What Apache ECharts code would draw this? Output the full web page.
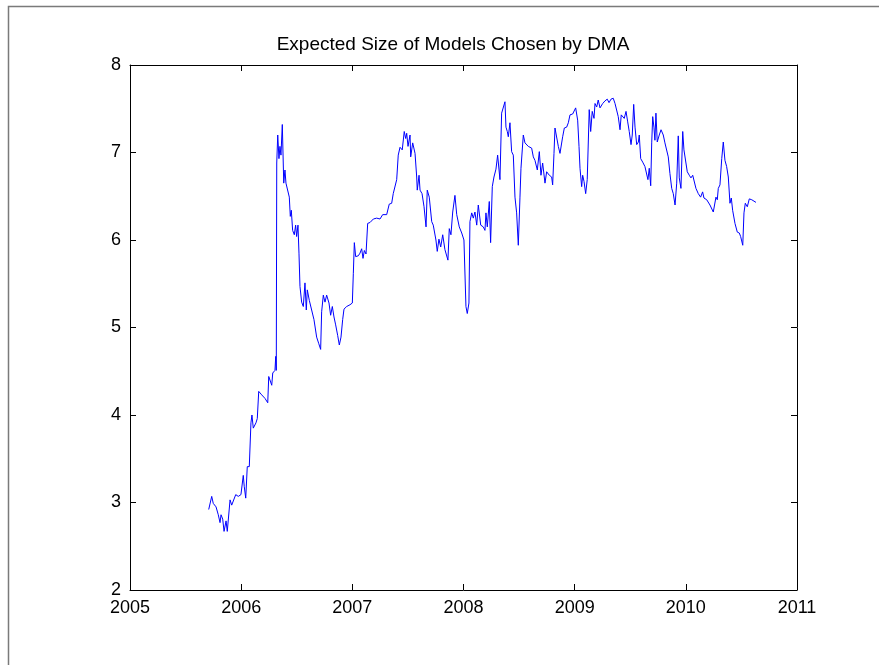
<!DOCTYPE html>
<html>
<head>
    <meta charset="utf-8">
    <title>Expected Size of Models Chosen by DMA</title>
    <script src="https://cdn.jsdelivr.net/npm/echarts@6/dist/echarts.min.js"></script>
    <style>
        html, body { margin: 0; padding: 0; background: #fff; }
    </style>
</head>
<body>
    <div id="main" style="width: 879px;height:665px;"></div>
    <script type="text/javascript">
        // decimal years
        var dates = [
            2005.708, 2005.720, 2005.735, 2005.749, 2005.774, 2005.794, 2005.810, 2005.819, 2005.834, 2005.846,
            2005.864, 2005.875, 2005.891, 2005.900, 2005.915, 2005.929, 2005.951, 2005.974, 2005.998, 2006.019,
            2006.028, 2006.041, 2006.055, 2006.073, 2006.088, 2006.097, 2006.109, 2006.133, 2006.145, 2006.158,
            2006.185, 2006.214, 2006.239, 2006.248, 2006.275, 2006.284, 2006.304, 2006.311, 2006.316, 2006.320,
            2006.329, 2006.340, 2006.349, 2006.358, 2006.370, 2006.383, 2006.394, 2006.403, 2006.415, 2006.433,
            2006.442, 2006.451, 2006.463, 2006.478, 2006.490, 2006.499, 2006.511, 2006.520, 2006.529, 2006.544,
            2006.559, 2006.574, 2006.586, 2006.595, 2006.613, 2006.634, 2006.655, 2006.679, 2006.697, 2006.715,
            2006.724, 2006.739, 2006.754, 2006.769, 2006.790, 2006.805, 2006.820, 2006.835, 2006.850, 2006.868,
            2006.883, 2006.898, 2006.913, 2006.925, 2006.949, 2006.979, 2007.000, 2007.009, 2007.018, 2007.030,
            2007.054, 2007.069, 2007.084, 2007.096, 2007.108, 2007.123, 2007.138, 2007.159, 2007.189, 2007.219,
            2007.249, 2007.273, 2007.309, 2007.332, 2007.354, 2007.368, 2007.384, 2007.399, 2007.413, 2007.429,
            2007.449, 2007.467, 2007.480, 2007.489, 2007.501, 2007.519, 2007.525, 2007.543, 2007.564, 2007.579,
            2007.584, 2007.600, 2007.609, 2007.627, 2007.645, 2007.663, 2007.674, 2007.692, 2007.714, 2007.728,
            2007.752, 2007.764, 2007.779, 2007.795, 2007.813, 2007.833, 2007.849, 2007.860, 2007.872, 2007.887,
            2007.903, 2007.923, 2007.939, 2007.962, 2007.984, 2008.004, 2008.022, 2008.034, 2008.049, 2008.058,
            2008.074, 2008.088, 2008.103, 2008.119, 2008.133, 2008.155, 2008.178, 2008.193, 2008.202, 2008.214,
            2008.232, 2008.244, 2008.259, 2008.274, 2008.292, 2008.307, 2008.328, 2008.343, 2008.358, 2008.373,
            2008.382, 2008.394, 2008.403, 2008.418, 2008.433, 2008.448, 2008.463, 2008.478, 2008.493, 2008.508,
            2008.517, 2008.538, 2008.553, 2008.583, 2008.613, 2008.628, 2008.643, 2008.664, 2008.682, 2008.697,
            2008.712, 2008.733, 2008.748, 2008.772, 2008.793, 2008.802, 2008.814, 2008.823, 2008.838, 2008.853,
            2008.868, 2008.883, 2008.892, 2008.907, 2008.928, 2008.943, 2008.958, 2008.982, 2008.997, 2009.009,
            2009.027, 2009.039, 2009.048, 2009.063, 2009.072, 2009.084, 2009.099, 2009.113, 2009.131, 2009.144,
            2009.158, 2009.174, 2009.183, 2009.198, 2009.212, 2009.228, 2009.252, 2009.273, 2009.293, 2009.309,
            2009.327, 2009.347, 2009.363, 2009.378, 2009.392, 2009.408, 2009.419, 2009.432, 2009.446, 2009.462,
            2009.477, 2009.491, 2009.507, 2009.518, 2009.531, 2009.543, 2009.558, 2009.573, 2009.581, 2009.594,
            2009.612, 2009.632, 2009.648, 2009.659, 2009.671, 2009.684, 2009.693, 2009.702, 2009.713, 2009.722,
            2009.731, 2009.743, 2009.761, 2009.777, 2009.797, 2009.812, 2009.828, 2009.842, 2009.857, 2009.873,
            2009.887, 2009.903, 2009.918, 2009.932, 2009.941, 2009.956, 2009.972, 2009.983, 2009.999, 2010.013,
            2010.031, 2010.046, 2010.062, 2010.076, 2010.091, 2010.112, 2010.133, 2010.151, 2010.163, 2010.188,
            2010.217, 2010.247, 2010.262, 2010.271, 2010.283, 2010.292, 2010.307, 2010.323, 2010.337, 2010.352,
            2010.367, 2010.382, 2010.397, 2010.409, 2010.421, 2010.442, 2010.463, 2010.481, 2010.493, 2010.512,
            2010.523, 2010.535, 2010.553, 2010.571, 2010.593, 2010.607, 2010.631
        ];

        // expected model size at each date
        var sizes = [
            2.92, 2.93, 3.07, 2.99, 2.95, 2.86, 2.77, 2.86, 2.81, 2.67,
            2.79, 2.67, 2.65, 3.03, 2.97, 2.97, 3.09, 3.07, 3.09, 3.31,
            3.18, 3.05, 3.41, 3.41, 3.91, 4.00, 3.85, 3.91, 3.96, 4.27,
            4.23, 4.19, 4.14, 4.44, 4.34, 4.48, 4.51, 4.67, 4.51, 6.88,
            7.20, 6.93, 7.07, 6.97, 7.32, 6.65, 6.80, 6.65, 6.67, 6.49,
            6.27, 6.34, 6.11, 6.06, 6.17, 6.04, 6.17, 5.85, 5.47, 5.29,
            5.24, 5.51, 5.20, 5.43, 5.31, 5.20, 5.09, 4.89, 4.82, 4.75,
            5.18, 5.37, 5.29, 5.37, 5.28, 5.14, 5.24, 5.12, 5.03, 4.91,
            4.80, 4.89, 5.09, 5.21, 5.24, 5.26, 5.28, 5.62, 5.97, 5.81,
            5.82, 5.85, 5.90, 5.79, 5.88, 5.84, 6.19, 6.20, 6.24, 6.25,
            6.24, 6.29, 6.29, 6.41, 6.42, 6.53, 6.51, 6.69, 6.97, 7.06,
            7.03, 7.24, 7.16, 7.22, 7.07, 7.20, 6.95, 7.11, 6.99, 6.72,
            6.57, 6.74, 6.57, 6.53, 6.38, 6.15, 6.57, 6.49, 6.21, 6.17,
            6.00, 5.87, 6.01, 5.92, 6.06, 5.89, 5.91, 5.77, 6.13, 6.06,
            6.32, 6.51, 6.29, 6.15, 6.08, 6.00, 5.24, 5.16, 5.28, 6.21,
            6.31, 6.25, 6.32, 6.17, 6.40, 6.17, 6.15, 6.11, 6.31, 6.15,
            6.44, 5.97, 6.61, 6.72, 6.81, 6.97, 6.69, 7.45, 7.47, 7.58,
            7.29, 7.24, 7.18, 7.34, 7.01, 6.97, 6.49, 6.31, 5.94, 6.49,
            6.82, 7.20, 7.11, 7.07, 7.05, 6.95, 6.91, 6.80, 7.01, 6.74,
            6.88, 6.65, 6.78, 6.74, 6.72, 6.63, 6.99, 7.28, 7.26, 7.07,
            6.99, 6.97, 7.18, 7.28, 7.29, 7.34, 7.43, 7.44, 7.45, 7.51,
            7.37, 7.07, 6.82, 6.61, 6.74, 6.67, 6.53, 6.69, 7.49, 7.24,
            7.47, 7.39, 7.56, 7.52, 7.60, 7.51, 7.56, 7.59, 7.61, 7.57,
            7.61, 7.62, 7.56, 7.54, 7.41, 7.26, 7.43, 7.45, 7.39, 7.47,
            7.35, 7.24, 7.09, 7.20, 7.55, 7.29, 7.09, 7.12, 7.20, 6.93,
            6.89, 6.84, 6.82, 6.69, 6.82, 6.62, 7.11, 7.41, 7.29, 7.14,
            7.45, 7.12, 7.20, 7.26, 7.20, 7.11, 7.12, 6.95, 6.76, 6.59,
            6.53, 6.40, 6.65, 7.19, 6.71, 6.59, 7.24, 7.03, 7.01, 6.78,
            6.74, 6.71, 6.74, 6.72, 6.59, 6.53, 6.49, 6.55, 6.48, 6.46,
            6.40, 6.32, 6.31, 6.49, 6.46, 6.59, 6.63, 6.93, 7.12, 6.91,
            6.84, 6.72, 6.42, 6.48, 6.34, 6.19, 6.09, 6.08, 6.04, 5.94,
            6.31, 6.42, 6.38, 6.47, 6.46, 6.45, 6.43
        ];

        var yearTicks = [2005, 2011];
        var sizeTicks = [2, 8];

        var points = [];
        for (var i = 0; i < dates.length; i++) {
            points.push([dates[i], sizes[i]]);
        }

        var myChart = echarts.init(document.getElementById('main'));

        var txt = { color: '#000', fontFamily: 'Liberation Sans, Arial, sans-serif', fontSize: 18 };
        var blackLine = { lineStyle: { color: '#000', width: 1 } };

        var option = {
            backgroundColor: '#fff',
            animation: false,
            title: {
                text: 'Expected Size of Models Chosen by DMA',
                left: 448,
                textAlign: 'center',
                top: 30,
                textStyle: { color: '#000', fontFamily: 'Liberation Sans, Arial, sans-serif', fontSize: 19, fontWeight: 'normal' }
            },
            graphic: [{
                // figure border
                type: 'rect',
                shape: { x: 8.5, y: 6.5, width: 900, height: 700 },
                style: { fill: 'none', stroke: '#7a7a7a', lineWidth: 1.5 },
                silent: true
            }],
            grid: { left: 130, right: 82, top: 65, bottom: 75 },
            xAxis: [{
                type: 'value',
                min: yearTicks[0],
                max: yearTicks[1],
                interval: 1,
                axisLine: blackLine,
                axisTick: { inside: true, length: 6, lineStyle: { color: '#000' } },
                axisLabel: Object.assign({ margin: 9, formatter: function (v) { return String(v); } }, txt),
                splitLine: { show: false }
            }, {
                type: 'value',
                position: 'top',
                min: yearTicks[0],
                max: yearTicks[1],
                interval: 1,
                axisLine: blackLine,
                axisTick: { inside: true, length: 6, lineStyle: { color: '#000' } },
                axisLabel: { show: false },
                splitLine: { show: false }
            }],
            yAxis: [{
                type: 'value',
                min: sizeTicks[0],
                max: sizeTicks[1],
                interval: 1,
                axisLine: { show: true, lineStyle: { color: '#000', width: 1 } },
                axisTick: { show: true, inside: true, length: 6, lineStyle: { color: '#000' } },
                axisLabel: Object.assign({ margin: 9 }, txt),
                splitLine: { show: false }
            }, {
                type: 'value',
                position: 'right',
                min: sizeTicks[0],
                max: sizeTicks[1],
                interval: 1,
                axisLine: { show: true, lineStyle: { color: '#000', width: 1 } },
                axisTick: { show: true, inside: true, length: 6, lineStyle: { color: '#000' } },
                axisLabel: { show: false },
                splitLine: { show: false }
            }],
            series: [{
                type: 'line',
                data: points,
                showSymbol: false,
                symbol: 'none',
                lineStyle: { color: '#0000ff', width: 1 },
                itemStyle: { color: '#0000ff' }
            }]
        };

        myChart.setOption(option);
    </script>
</body>
</html>
